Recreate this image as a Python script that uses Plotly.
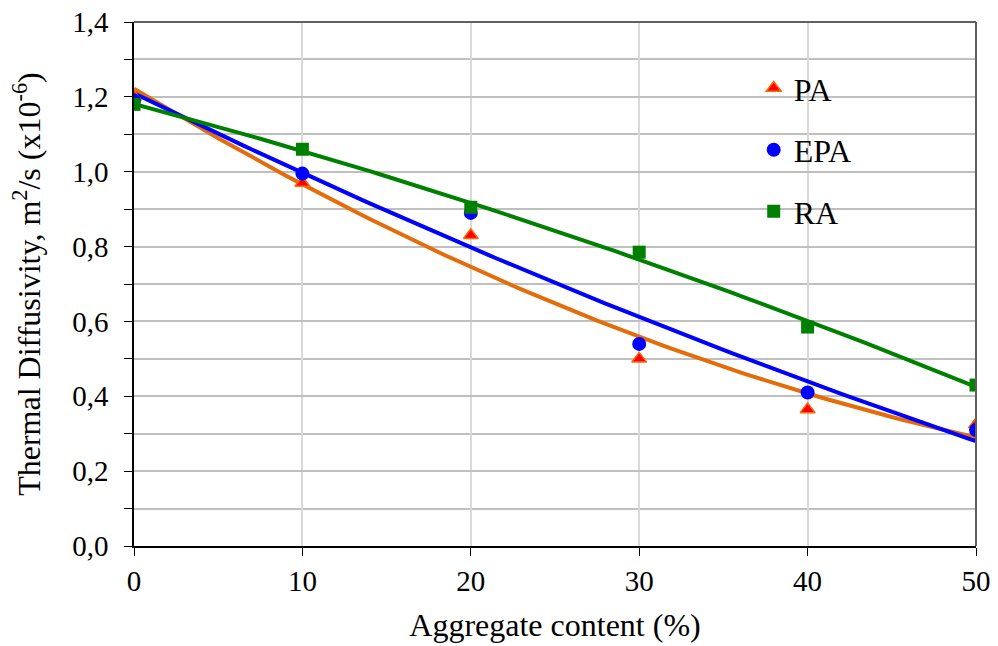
import numpy as np
import plotly.graph_objects as go

x = [0, 10, 20, 30, 40, 50]
pa = [1.20, 0.97, 0.83, 0.50, 0.365, 0.325]
epa = [1.19, 0.995, 0.89, 0.54, 0.41, 0.31]
ra = [1.18, 1.06, 0.905, 0.785, 0.585, 0.43]
xticks = [0, 10, 20, 30, 40, 50]

FONT = "Liberation Serif"
xs = np.linspace(0, 50, 101)

def trend(y):
    c = np.polyfit(x, y, 2)
    return np.polyval(c, xs)

fig = go.Figure()
line_specs = [(pa, "#E46C0A"), (epa, "#0000FF"), (ra, "#008000")]
for y, col in line_specs:
    fig.add_trace(go.Scatter(x=xs, y=trend(y), mode="lines",
                             line=dict(color=col, width=4), showlegend=False,
                             hoverinfo="skip"))

fig.add_trace(go.Scatter(x=x, y=pa, mode="markers", name="PA", legendgroup="a",
                         marker=dict(symbol="triangle-up", size=13, color="#FF0000",
                                     line=dict(color="#FF6A00", width=1.5))))
fig.add_trace(go.Scatter(x=x, y=epa, mode="markers", name="EPA", legendgroup="b",
                         marker=dict(symbol="circle", size=14, color="#0000FF",
                                     line=dict(width=0))))
fig.add_trace(go.Scatter(x=x, y=ra, mode="markers", name="RA", legendgroup="c",
                         marker=dict(symbol="square", size=13, color="#008000",
                                     line=dict(width=0))))

fig.update_layout(
    width=998, height=646,
    margin=dict(l=134, r=22, t=22, b=100, autoexpand=False),
    paper_bgcolor="white", plot_bgcolor="white",
    separators=", ",
    font=dict(family=FONT, color="black", size=28),
    showlegend=True,
    legend=dict(x=0.736, y=0.926, xanchor="left", yanchor="top",
                font=dict(family=FONT, size=32, color="black"),
                bgcolor="rgba(0,0,0,0)", tracegroupgap=17,
                itemsizing="trace"),
    xaxis=dict(range=[0, 50], tickvals=xticks, showgrid=True, automargin=False,
               gridcolor="#D9D9D9", gridwidth=1.5,
               showline=True, linecolor="black", linewidth=1.5,
               ticks="outside", ticklen=8, tickcolor="black",
               tickfont=dict(family=FONT, size=29), zeroline=False,
               title=dict(text="Aggregate content (%)",
                          font=dict(family=FONT, size=32), standoff=18)),
    yaxis=dict(range=[0, 1.4], tickvals=[0, 0.2, 0.4, 0.6, 0.8, 1.0, 1.2, 1.4],
               automargin=False, ticklabelstandoff=10,
               tickformat=".1f", showgrid=True, gridcolor="#BFBFBF", gridwidth=2,
               showline=True, linecolor="black", linewidth=1.5,
               ticks="outside", ticklen=8, tickcolor="black",
               tickfont=dict(family=FONT, size=29), zeroline=False,
               minor=dict(dtick=0.1, showgrid=True, gridcolor="#BFBFBF", gridwidth=2,
                          ticks="outside", ticklen=8, tickcolor="black"),
               title=dict(text="Thermal Diffusivity, m<sup>2</sup>/s (x10<sup>-6</sup>)",
                          font=dict(family=FONT, size=32), standoff=22)),
    shapes=[
        dict(type="line", xref="paper", yref="paper", x0=0, x1=1, y0=1, y1=1,
             line=dict(color="#606060", width=2)),
        dict(type="line", xref="paper", yref="paper", x0=1, x1=1, y0=0, y1=1,
             line=dict(color="#606060", width=2)),
    ],
)

fig.write_html("out.html")
